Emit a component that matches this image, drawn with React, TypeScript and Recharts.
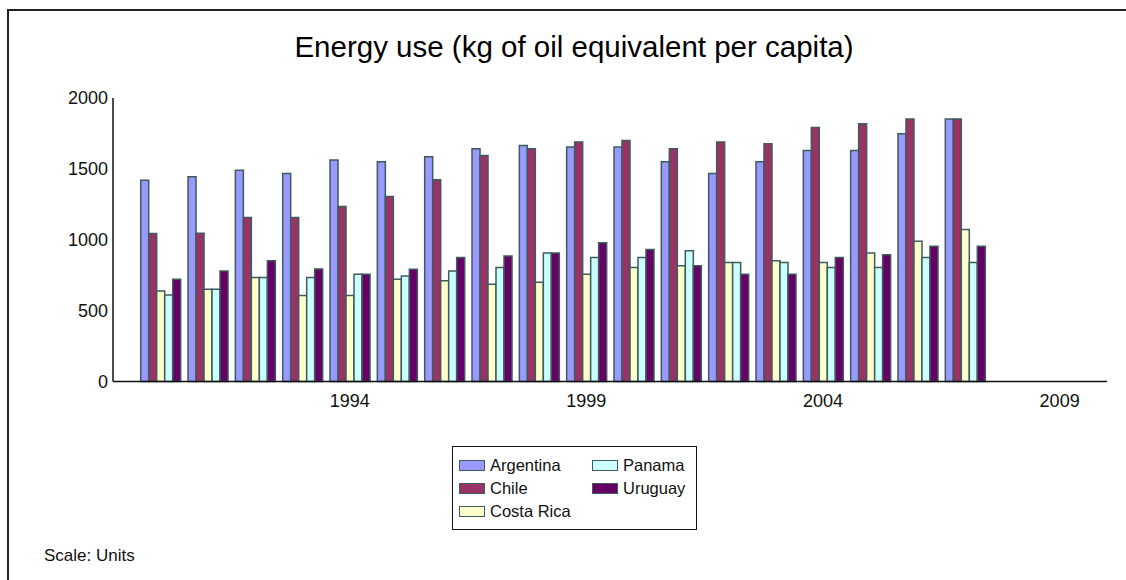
import React from "react";
import { BarChart, Bar, XAxis, YAxis } from "recharts";

const years = [1990, 1991, 1992, 1993, 1994, 1995, 1996, 1997, 1998, 1999, 2000, 2001, 2002, 2003, 2004, 2005, 2006, 2007, 2008, 2009];

const argentina = [1420, 1444, 1491, 1468, 1562, 1550, 1585, 1642, 1665, 1654, 1654, 1550, 1468, 1550, 1630, 1630, 1748, 1851];
const chile = [1044, 1045, 1157, 1157, 1235, 1305, 1423, 1595, 1642, 1689, 1701, 1642, 1689, 1677, 1792, 1818, 1851, 1851];
const costaRica = [638, 651, 733, 606, 606, 722, 710, 686, 700, 757, 804, 816, 839, 851, 839, 907, 990, 1072];
const panama = [610, 651, 733, 733, 757, 745, 780, 804, 907, 874, 874, 922, 839, 839, 804, 804, 874, 839];
const uruguay = [721, 780, 851, 794, 757, 792, 874, 886, 907, 978, 931, 816, 757, 757, 874, 895, 955, 955];

const xTicks = [1994, 1999, 2004, 2009];
const yTicks = [0, 500, 1000, 1500, 2000];

const series = [
  { key: "Argentina", color: "#9999ff" },
  { key: "Chile", color: "#993366" },
  { key: "Costa Rica", color: "#ffffcc" },
  { key: "Panama", color: "#ccffff" },
  { key: "Uruguay", color: "#660066" },
];

const values: Record<string, number[]> = {
  Argentina: argentina,
  Chile: chile,
  "Costa Rica": costaRica,
  Panama: panama,
  Uruguay: uruguay,
};

const data = years.map((year, i) => {
  const row: { year: number; [key: string]: number | undefined } = { year };
  series.forEach((s) => {
    row[s.key] = values[s.key][i];
  });
  return row;
});

const FONT = "'Liberation Sans', Arial, sans-serif";
const STROKE = "#3d5c5c";

// legend box laid out in two columns like the original
const LegendBox = () => {
  const order = [
    [series[0], series[3]],
    [series[1], series[4]],
    [series[2], null],
  ];
  return (
    <div
      style={{
        position: "absolute",
        left: 452,
        top: 446,
        width: 245,
        height: 84,
        border: "1.5px solid #111",
        boxSizing: "border-box",
        background: "#fff",
        paddingTop: 7,
        fontFamily: FONT,
        fontSize: 16.5,
        color: "#111",
      }}
    >
      {order.map((row, r) => (
        <div key={r} style={{ position: "relative", height: 23 }}>
          {row.map((s, c) =>
            s ? (
              <div
                key={s.key}
                style={{ display: "flex", alignItems: "center", position: "absolute", top: 0, height: 23, left: c === 0 ? 6 : 139 }}
              >
                <span
                  style={{
                    display: "inline-block",
                    width: 24,
                    height: 9,
                    background: s.color,
                    border: `1.5px solid ${STROKE}`,
                    marginRight: 5,
                  }}
                />
                <span>{s.key}</span>
              </div>
            ) : null
          )}
        </div>
      ))}
    </div>
  );
};

export default function App() {
  return (
    <div style={{ position: "fixed", left: 0, top: 0, width: 1126, height: 580, background: "#fff", overflow: "hidden" }}>
      <div
        style={{
          position: "absolute",
          left: 7,
          top: 9,
          width: 1200,
          height: 700,
          borderLeft: "2px solid #222",
          borderTop: "2px solid #222",
        }}
      />
      <div
        style={{
          position: "absolute",
          left: 0,
          width: 1148,
          top: 27,
          textAlign: "center",
          fontFamily: FONT,
          fontSize: 29.5,
          color: "#000",
          lineHeight: "40px",
        }}
      >
        Energy use (kg of oil equivalent per capita)
      </div>
      <div style={{ position: "absolute", left: 0, top: 0 }}>
        <BarChart
          width={1126}
          height={580}
          data={data}
          margin={{ top: 98, left: 53, right: 19, bottom: 168.5 }}
          barCategoryGap={4}
          barGap={0}
        >
          <XAxis
            dataKey="year"
            type="category"
            ticks={xTicks}
            padding={{ left: 23.7, right: 23.7 }}
            height={30}
            tickLine={false}
            tickSize={8}
            tickMargin={5}
            axisLine={{ stroke: "#111", strokeWidth: 1.5 }}
            tick={{ fill: "#111", fontSize: 18, fontFamily: FONT }}
          />
          <YAxis
            width={60}
            domain={[0, 2000]}
            ticks={yTicks}
            tickLine={false}
            tickSize={3}
            tickMargin={2}
            axisLine={{ stroke: "#111", strokeWidth: 1.5 }}
            tick={{ fill: "#111", fontSize: 18, fontFamily: FONT }}
          />
          {series.map((s) => (
            <Bar
              key={s.key}
              dataKey={s.key}
              fill={s.color}
              stroke={STROKE}
              strokeWidth={1.5}
              isAnimationActive={false}
            />
          ))}
        </BarChart>
      </div>
      <LegendBox />
      <div
        style={{
          position: "absolute",
          left: 44,
          top: 546,
          fontFamily: FONT,
          fontSize: 17,
          color: "#111",
        }}
      >
        Scale: Units
      </div>
    </div>
  );
}
